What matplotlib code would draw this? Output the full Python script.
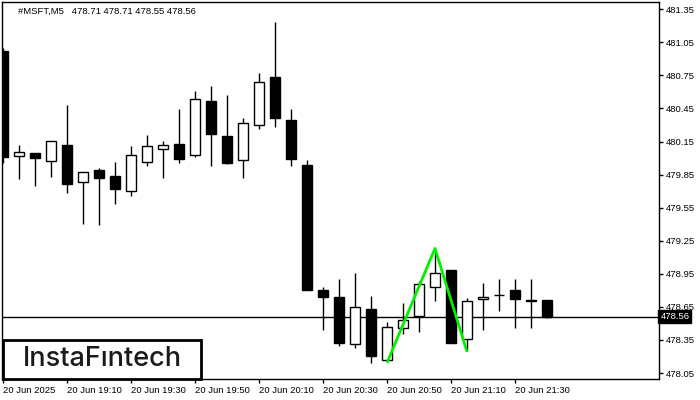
import matplotlib
matplotlib.use("Agg")
import matplotlib.pyplot as plt
import matplotlib.transforms as mtransforms
from matplotlib.patches import Rectangle
import numpy as np

symbol_title = "#MSFT,M5   478.71 478.71 478.55 478.56"
opens  = [480.97, 480.016, 480.046, 479.97, 480.118, 479.78, 479.892, 479.837, 479.697, 479.967,
          480.08, 480.125, 480.025, 480.518, 480.20, 479.98, 480.297, 480.733, 480.345, 479.937,
          478.803, 478.739, 478.315, 478.63, 478.165, 478.455, 478.57, 478.827, 478.984, 478.355,
          478.718, 478.755, 478.803, 478.712, 478.71]
highs  = [481.00, 480.118, 480.05, 480.152, 480.482, 479.87, 479.907, 479.964, 480.11, 480.21,
          480.155, 480.445, 480.609, 480.654, 480.572, 480.364, 480.772, 481.235, 480.445, 479.982,
          478.833, 478.903, 478.957, 478.748, 478.515, 478.685, 478.887, 479.181, 478.984, 478.727,
          478.866, 478.903, 478.903, 478.903, 478.71]
lows   = [479.955, 479.81, 479.75, 479.83, 479.686, 479.404, 479.395, 479.583, 479.66, 479.93,
          479.822, 479.958, 480.007, 479.925, 479.95, 479.822, 480.267, 480.285, 479.93, 478.80,
          478.44, 478.297, 478.279, 478.143, 478.16, 478.406, 478.424, 478.706, 478.325, 478.25,
          478.443, 478.615, 478.46, 478.46, 478.55]
closes = [480.01, 480.052, 480.003, 480.152, 479.762, 479.87, 479.822, 479.722, 480.025, 480.11,
          480.116, 479.994, 480.533, 480.221, 479.958, 480.315, 480.688, 480.361, 479.994, 478.806,
          478.742, 478.325, 478.648, 478.207, 478.467, 478.528, 478.855, 478.954, 478.325, 478.70,
          478.739, 478.757, 478.724, 478.70, 478.56]
last_price = 478.56
pattern_idx = [24, 27, 29]
pattern_price = [478.143, 479.181, 478.243]
x_tick_idx = [0, 4, 8, 12, 16, 20, 24, 28, 32]
x_tick_labels = ["20 Jun 2025", "20 Jun 19:10", "20 Jun 19:30", "20 Jun 19:50", "20 Jun 20:10",
                 "20 Jun 20:30", "20 Jun 20:50", "20 Jun 21:10", "20 Jun 21:30"]
y_ticks = [478.05, 478.35, 478.65, 478.95, 479.25, 479.55, 479.85, 480.15, 480.45, 480.75, 481.05, 481.35]

W, H = 700, 400
fig = plt.figure(figsize=(7, 4), dpi=100)
ax = fig.add_axes([2 / W, 1 - 379 / H, 657 / W, 377 / H])
font = "Liberation Sans"
fs = 6.8

x = np.arange(len(opens))
o = np.array(opens); c = np.array(closes); h = np.array(highs); l = np.array(lows)
ax.vlines(x, l, h, color="black", lw=1.0, zorder=2)
bull = c >= o
bw = 0.625
ax.bar(x[bull], (c - o)[bull], bottom=o[bull], width=bw, color="white", edgecolor="black", lw=1.0, zorder=3)
ax.bar(x[~bull], (o - c)[~bull], bottom=c[~bull], width=bw, color="black", edgecolor="black", lw=1.0, zorder=3)

ax.axhline(last_price, color="black", lw=1.0, zorder=1)
ax.plot(pattern_idx, pattern_price, color="#00f000", lw=2.0, zorder=5, solid_capstyle="butt")

ax.set_xlim(-0.0625, 41.0)
ax.set_ylim(477.996, 481.416)
ax.yaxis.tick_right()
ax.set_yticks(y_ticks)
ax.set_yticklabels([f"{v:.2f}" for v in y_ticks], fontsize=fs, family=font)
ax.set_xticks(x_tick_idx)
ax.set_xticklabels(x_tick_labels, fontsize=fs, family=font, ha="left")
ax.tick_params(axis="x", length=3, width=1, pad=2)
ax.tick_params(axis="y", length=3, width=1, pad=2)
for sp in ax.spines.values():
    sp.set_linewidth(1.0)
    sp.set_color("black")

trans = mtransforms.blended_transform_factory(ax.transAxes, ax.transData)
ax.text(1.002, last_price, f"{last_price:.2f}", transform=trans, color="white", fontsize=fs, family=font,
        va="center", ha="left", zorder=10,
        bbox=dict(boxstyle="square,pad=0.2", facecolor="black", edgecolor="black"))

fig.text(18 / W, 1 - 11 / H, symbol_title, fontsize=fs, family=font, va="center", ha="left", color="black")

rect = Rectangle((3 / W, 1 - 379 / H), 198 / W, 39 / H, transform=fig.transFigure,
                 facecolor="white", edgecolor="black", lw=2.0, zorder=20)
fig.patches.append(rect)
fig.text(102 / W, 1 - 359 / H, "InstaF\u0131ntech", fontsize=19.5, family="Inter", fontweight="medium",
         color="#1a1a1a", ha="center", va="center", zorder=21)

fig.savefig("out.png", dpi=100)
